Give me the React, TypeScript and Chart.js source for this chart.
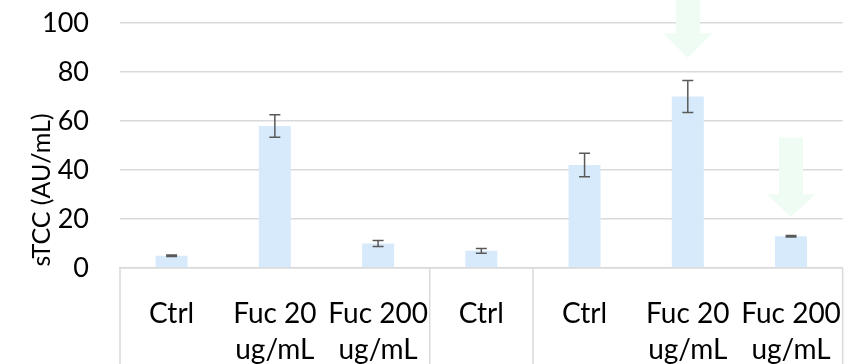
import React, { useEffect, useRef } from "react";
import { Chart, registerables } from "chart.js";

Chart.register(...registerables);

const categories: string[][] = [
  ["Ctrl"],
  ["Fuc 20", "ug/mL"],
  ["Fuc 200", "ug/mL"],
  ["Ctrl"],
  ["Ctrl"],
  ["Fuc 20", "ug/mL"],
  ["Fuc 200", "ug/mL"],
];
const values = [5, 58, 10, 7, 42, 70, 13];
const errors = [0.3, 4.6, 1.2, 1.0, 4.8, 6.5, 0.3];
const groupBoundaries = [0, 3, 4, 7];
const yTicks = [0, 20, 40, 60, 80, 100];
const yTitle = "sTCC (AU/mL)";
// arrows: category index, tail value, head-base value, tip value
const arrowIndex = [5, 6];
const arrowTail = [112, 53.3];
const arrowHeadBase = [95.8, 30.1];
const arrowTip = [85.7, 20.9];

const FONT = "Lato, 'Open Sans', sans-serif";
const GRID = "#d9d9d9";

const extrasPlugin = {
  id: "extras",
  afterDatasetsDraw(chart: any) {
    const { ctx, scales } = chart;
    const x = scales.x;
    const y = scales.y;
    const meta = chart.getDatasetMeta(0);
    ctx.save();
    // error bars
    ctx.strokeStyle = "#595959";
    ctx.lineWidth = 1.5;
    values.forEach((v, i) => {
      const px = meta.data[i].x;
      const top = y.getPixelForValue(v + errors[i]);
      const bot = y.getPixelForValue(v - errors[i]);
      const cap = 5.5;
      ctx.beginPath();
      ctx.moveTo(px, top);
      ctx.lineTo(px, bot);
      ctx.moveTo(px - cap, top);
      ctx.lineTo(px + cap, top);
      ctx.moveTo(px - cap, bot);
      ctx.lineTo(px + cap, bot);
      ctx.stroke();
    });
    // arrows
    ctx.fillStyle = "#effcf4";
    arrowIndex.forEach((idx, k) => {
      const cx = x.getPixelForValue(idx);
      const tail = y.getPixelForValue(arrowTail[k]);
      const hb = y.getPixelForValue(arrowHeadBase[k]);
      const tip = y.getPixelForValue(arrowTip[k]);
      const sw = 12;
      const hw = 24.5;
      ctx.beginPath();
      ctx.moveTo(cx - sw, tail);
      ctx.lineTo(cx + sw, tail);
      ctx.lineTo(cx + sw, hb);
      ctx.lineTo(cx + hw, hb);
      ctx.lineTo(cx, tip);
      ctx.lineTo(cx - hw, hb);
      ctx.lineTo(cx - sw, hb);
      ctx.closePath();
      ctx.fill();
    });
    ctx.restore();
  },
  afterDraw(chart: any) {
    const { ctx, scales, chartArea } = chart;
    const x = scales.x;
    ctx.save();
    // separators below axis
    ctx.strokeStyle = GRID;
    ctx.lineWidth = 1.5;
    const step = x.getPixelForValue(1) - x.getPixelForValue(0);
    groupBoundaries.forEach((b) => {
      const px = x.getPixelForValue(0) - step / 2 + b * step;
      ctx.beginPath();
      ctx.moveTo(px, chartArea.bottom);
      ctx.lineTo(px, chart.height);
      ctx.stroke();
    });
    // y title
    ctx.fillStyle = "#000";
    ctx.font = `25px ${FONT}`;
    ctx.textAlign = "center";
    ctx.textBaseline = "middle";
    ctx.translate(42, 190);
    ctx.rotate(-Math.PI / 2);
    ctx.fillText(yTitle, 0, 0);
    ctx.restore();
  },
};

export default function App() {
  const ref = useRef<HTMLCanvasElement>(null);
  useEffect(() => {
    document.body.style.margin = "0";
    const chart = new Chart(ref.current!, {
      type: "bar",
      data: {
        labels: categories as any,
        datasets: [
          {
            data: values,
            backgroundColor: "#d7eafb",
            borderWidth: 0,
            categoryPercentage: 1,
            barPercentage: 0.31,
          },
        ],
      },
      options: {
        animation: false,
        responsive: false,
        layout: { padding: { top: 23, right: 16, bottom: 0, left: 0 } },
        plugins: { legend: { display: false }, tooltip: { enabled: false } },
        scales: {
          x: {
            grid: { display: false },
            border: { display: true, color: GRID, width: 1.5 },
            ticks: {
              color: "#000",
              font: { family: FONT, size: 28, lineHeight: 1.32 },
              padding: 19,
              maxRotation: 0,
              autoSkip: false,
            },
            afterFit(scale: any) {
              scale.height = 96;
            },
          },
          y: {
            min: 0,
            max: 100,
            afterBuildTicks(scale: any) {
              scale.ticks = yTicks.map((v) => ({ value: v }));
            },
            grid: {
              color: GRID,
              lineWidth: 1.5,
              drawTicks: true,
              tickLength: 31,
              tickColor: "rgba(0,0,0,0)",
            },
            border: { display: false },
            ticks: {
              color: "#000",
              font: { family: FONT, size: 27 },
              padding: 0,
            },
            afterFit(scale: any) {
              scale.width = 120;
            },
          },
        },
      },
      plugins: [extrasPlugin],
    });
    return () => chart.destroy();
  }, []);
  return <canvas ref={ref} width={861} height={364} style={{ display: "block" }} />;
}
